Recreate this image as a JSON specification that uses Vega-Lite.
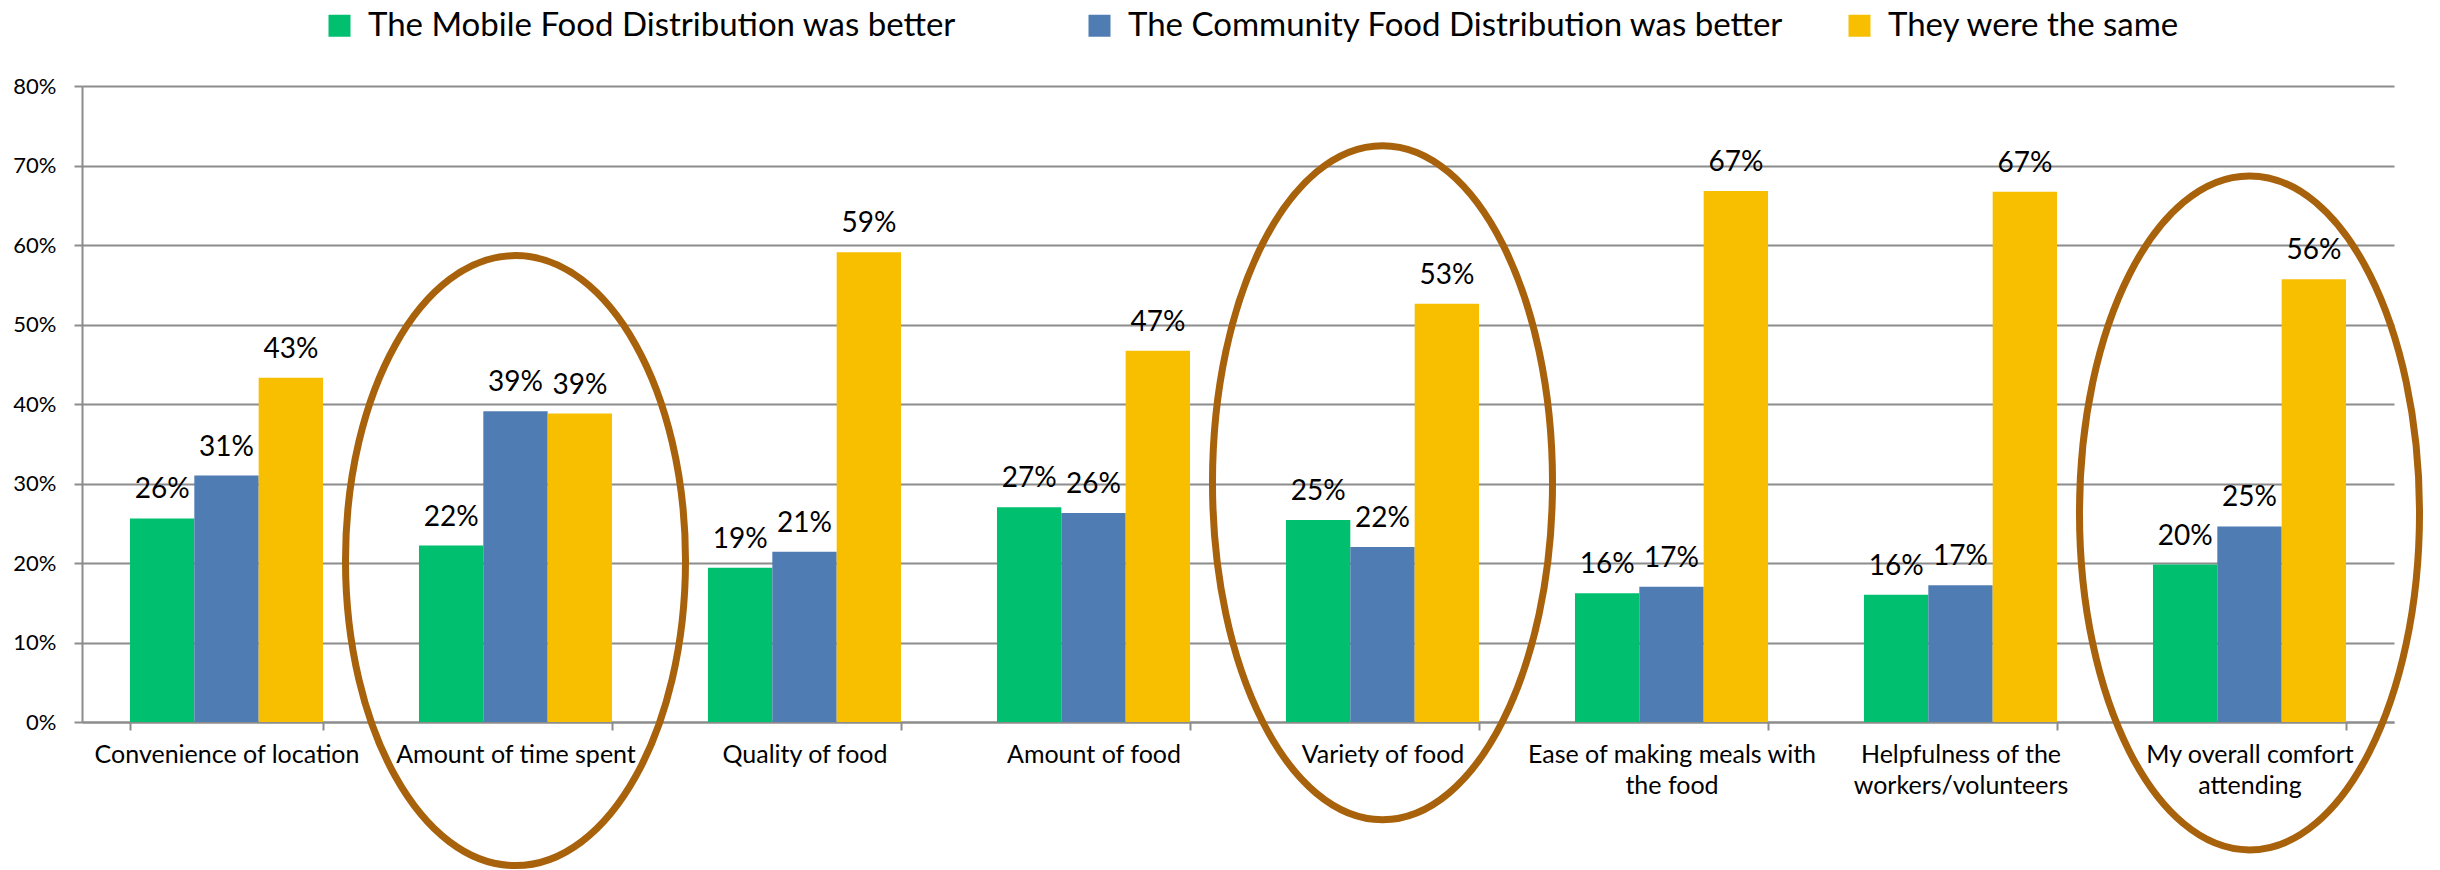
{
  "$schema": "https://vega.github.io/schema/vega-lite/v6.json",
  "width": 2312,
  "height": 636,
  "autosize": {"type": "none"},
  "padding": {"left": 82, "top": 86, "right": 46, "bottom": 148},
  "background": "white",
  "config": {
    "view": {"stroke": null},
    "font": "Lato",
    "axis": {"labelFont": "Lato", "labelColor": "#000000", "titleFont": "Lato"},
    "legend": {"labelFont": "Lato"}
  },
  "datasets": {
    "bars": [
      {"category": "Convenience of location", "series": "The Mobile Food Distribution was better", "value": 0.256},
      {"category": "Convenience of location", "series": "The Community Food Distribution was better", "value": 0.310},
      {"category": "Convenience of location", "series": "They were the same", "value": 0.433},
      {"category": "Amount of time spent", "series": "The Mobile Food Distribution was better", "value": 0.222},
      {"category": "Amount of time spent", "series": "The Community Food Distribution was better", "value": 0.391},
      {"category": "Amount of time spent", "series": "They were the same", "value": 0.388},
      {"category": "Quality of  food", "series": "The Mobile Food Distribution was better", "value": 0.194},
      {"category": "Quality of  food", "series": "The Community Food Distribution was better", "value": 0.214},
      {"category": "Quality of  food", "series": "They were the same", "value": 0.591},
      {"category": "Amount of food", "series": "The Mobile Food Distribution was better", "value": 0.270},
      {"category": "Amount of food", "series": "The Community Food Distribution was better", "value": 0.263},
      {"category": "Amount of food", "series": "They were the same", "value": 0.467},
      {"category": "Variety of food", "series": "The Mobile Food Distribution was better", "value": 0.254},
      {"category": "Variety of food", "series": "The Community Food Distribution was better", "value": 0.220},
      {"category": "Variety of food", "series": "They were the same", "value": 0.526},
      {"category": "Ease of making meals with the food", "series": "The Mobile Food Distribution was better", "value": 0.162},
      {"category": "Ease of making meals with the food", "series": "The Community Food Distribution was better", "value": 0.170},
      {"category": "Ease of making meals with the food", "series": "They were the same", "value": 0.668},
      {"category": "Helpfulness of the workers/volunteers", "series": "The Mobile Food Distribution was better", "value": 0.160},
      {"category": "Helpfulness of the workers/volunteers", "series": "The Community Food Distribution was better", "value": 0.172},
      {"category": "Helpfulness of the workers/volunteers", "series": "They were the same", "value": 0.667},
      {"category": "My overall comfort attending", "series": "The Mobile Food Distribution was better", "value": 0.198},
      {"category": "My overall comfort attending", "series": "The Community Food Distribution was better", "value": 0.246},
      {"category": "My overall comfort attending", "series": "They were the same", "value": 0.557}
    ],
    "rings": [
      {"category": "Amount of time spent", "mid": 0.203, "group": "short"},
      {"category": "Variety of food", "mid": 0.301, "group": "tall"},
      {"category": "My overall comfort attending", "mid": 0.263, "group": "tall"}
    ]
  },
  "layer": [
    {
      "data": {"name": "bars"},
      "mark": {"type": "bar"},
      "encoding": {
        "x": {
          "field": "category", "type": "nominal",
          "scale": {
            "domain": ["Convenience of location", "Amount of time spent", "Quality of  food", "Amount of food", "Variety of food", "Ease of making meals with the food", "Helpfulness of the workers/volunteers", "My overall comfort attending"],
            "paddingInner": 0.332, "paddingOuter": 0.166
          },
          "axis": {
            "title": null,
            "labelAngle": 0,
            "labelFontSize": 25,
            "labelPadding": 12,
            "labelLineHeight": 31,
            "labelLimit": 400,
            "tickBand": "extent",
            "tickSize": 8,
            "tickWidth": 2,
            "tickColor": "#8C8C8C",
            "domainColor": "#8C8C8C",
            "domainWidth": 2,
            "labelExpr": "datum.value == 'Ease of making meals with the food' ? ['Ease of making meals with', 'the food'] : datum.value == 'Helpfulness of the workers/volunteers' ? ['Helpfulness of the', 'workers/volunteers'] : datum.value == 'My overall comfort attending' ? ['My overall comfort', 'attending'] : datum.value"
          }
        },
        "xOffset": {
          "field": "series", "type": "nominal",
          "scale": {"domain": ["The Mobile Food Distribution was better", "The Community Food Distribution was better", "They were the same"], "paddingInner": 0, "paddingOuter": 0}
        },
        "y": {
          "field": "value", "type": "quantitative",
          "scale": {"domain": [0, 0.8], "nice": false},
          "axis": {
            "title": null,
            "format": ".0%",
            "values": [0, 0.1, 0.2, 0.3, 0.4, 0.5, 0.6, 0.7, 0.8],
            "labelFontSize": 22,
            "labelPadding": 18,
            "tickSize": 8,
            "tickWidth": 2,
            "tickColor": "#8C8C8C",
            "domainColor": "#8C8C8C",
            "domainWidth": 2,
            "grid": true,
            "gridColor": "#8C8C8C",
            "gridWidth": 2
          }
        },
        "color": {
          "field": "series", "type": "nominal",
          "scale": {
            "domain": ["The Mobile Food Distribution was better", "The Community Food Distribution was better", "They were the same"],
            "range": ["#00BF6F", "#4F7CB3", "#F8BE00"]
          },
          "legend": {
            "title": null,
            "orient": "none",
            "direction": "horizontal",
            "columns": 3,
            "gridAlign": "all",
            "legendX": 241,
            "legendY": -77,
            "padding": 0,
            "labelFontSize": 33,
            "labelColor": "#000000",
            "labelLimit": 1000,
            "labelOffset": 12,
            "columnPadding": 59,
            "symbolType": "square",
            "symbolSize": 484,
            "symbolStrokeWidth": 0
          }
        }
      }
    },
    {
      "data": {"name": "bars"},
      "mark": {"type": "text", "baseline": "alphabetic", "dy": -20, "fontSize": 28, "font": "Lato", "color": "#000000"},
      "encoding": {
        "x": {"field": "category", "type": "nominal"},
        "xOffset": {"field": "series", "type": "nominal"},
        "y": {"field": "value", "type": "quantitative"},
        "text": {"field": "value", "type": "quantitative", "format": ".0%"}
      }
    },
    {
      "data": {"name": "rings"},
      "transform": [{"filter": "datum.group == 'short'"}],
      "mark": {
        "type": "point", "filled": false, "stroke": "#A8620B", "strokeWidth": 7, "opacity": 1,
        "size": 372100,
        "shape": "M0,-1C0.3079,-1,0.5574,-0.5523,0.5574,0C0.5574,0.5523,0.3079,1,0,1C-0.3079,1,-0.5574,0.5523,-0.5574,0C-0.5574,-0.5523,-0.3079,-1,0,-1Z"
      },
      "encoding": {
        "x": {"field": "category", "type": "nominal"},
        "y": {"field": "mid", "type": "quantitative"}
      }
    },
    {
      "data": {"name": "rings"},
      "transform": [{"filter": "datum.group == 'tall'"}],
      "mark": {
        "type": "point", "filled": false, "stroke": "#A8620B", "strokeWidth": 7, "opacity": 1,
        "size": 454276,
        "shape": "M0,-1C0.2786,-1,0.5045,-0.5523,0.5045,0C0.5045,0.5523,0.2786,1,0,1C-0.2786,1,-0.5045,0.5523,-0.5045,0C-0.5045,-0.5523,-0.2786,-1,0,-1Z"
      },
      "encoding": {
        "x": {"field": "category", "type": "nominal"},
        "y": {"field": "mid", "type": "quantitative"}
      }
    }
  ]
}
